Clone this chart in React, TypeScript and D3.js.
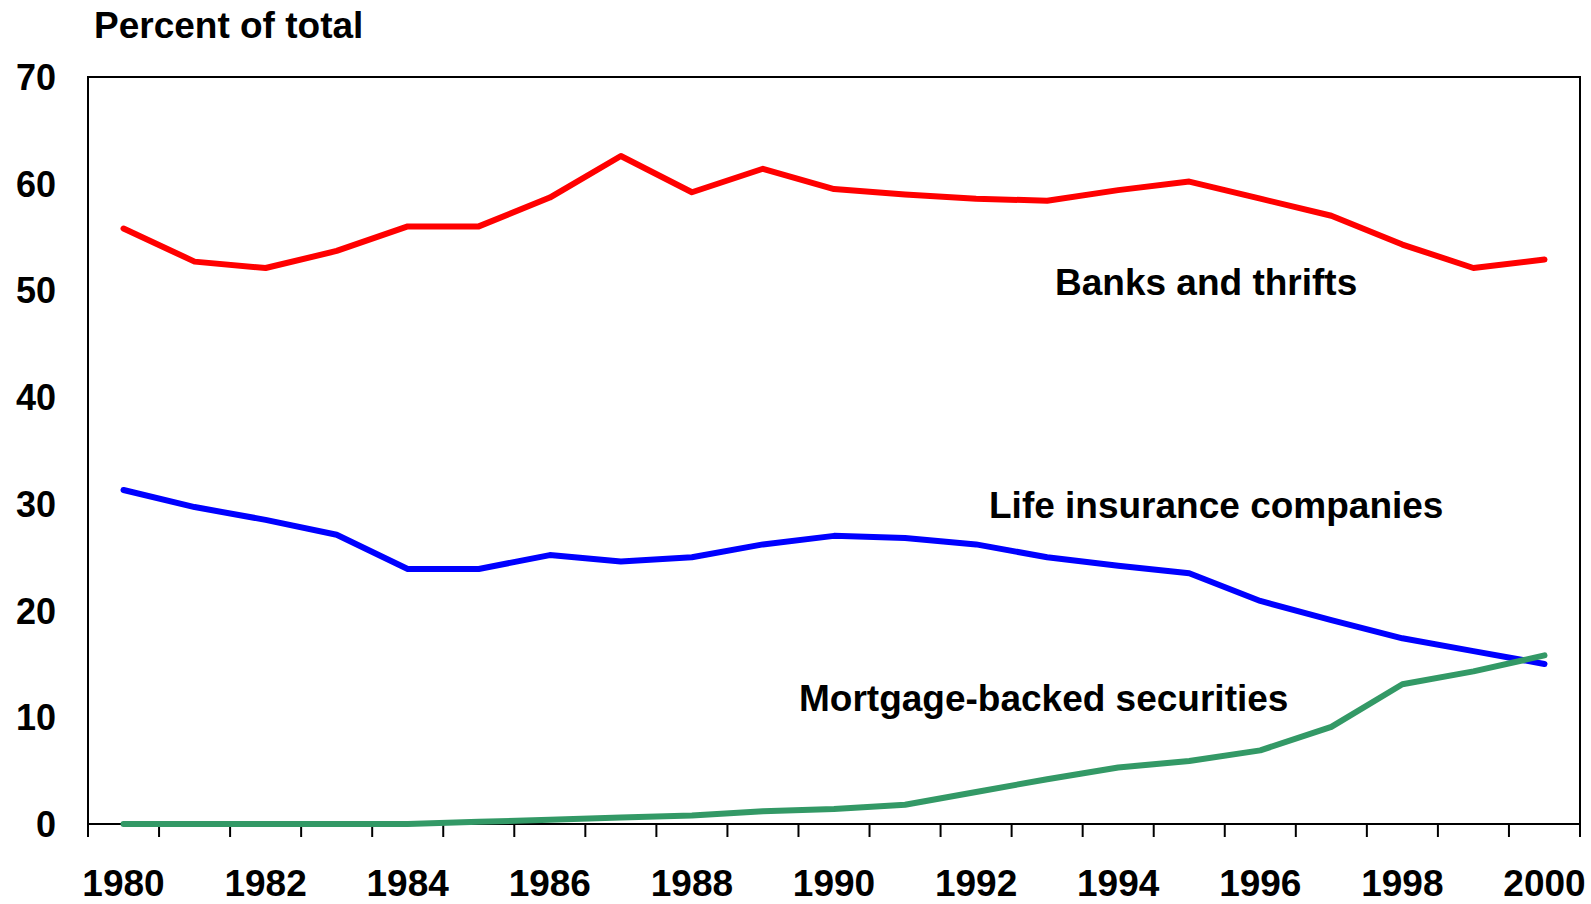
import React from 'react';
import * as d3 from 'd3';

// years on the category axis
const years = [
  '1980', '1981', '1982', '1983', '1984', '1985', '1986', '1987', '1988', '1989', '1990',
  '1991', '1992', '1993', '1994', '1995', '1996', '1997', '1998', '1999', '2000',
];

// percent of total
const banksAndThrifts = [
  55.8, 52.7, 52.1, 53.7, 56.0, 56.0, 58.7, 62.6, 59.2, 61.4, 59.5,
  59.0, 58.6, 58.4, 59.4, 60.2, 58.6, 57.0, 54.3, 52.1, 52.9,
];
const lifeInsurance = [
  31.3, 29.7, 28.5, 27.1, 23.9, 23.9, 25.2, 24.6, 25.0, 26.2, 27.0,
  26.8, 26.2, 25.0, 24.2, 23.5, 20.9, 19.1, 17.4, 16.2, 15.0,
];
const mortgageBacked = [
  0, 0, 0, 0, 0, 0.2, 0.4, 0.6, 0.8, 1.2, 1.4,
  1.8, 3.0, 4.2, 5.3, 5.9, 6.9, 9.1, 13.1, 14.3, 15.8,
];

const yTicks = [0, 10, 20, 30, 40, 50, 60, 70];
const yearLabels = ['1980', '1982', '1984', '1986', '1988', '1990', '1992', '1994', '1996', '1998', '2000'];

const W = 1591;
const H = 904;
const left = 88;
const right = 1580;
const top = 77;
const bottom = 824;
const font = 'Arial, "Liberation Sans", sans-serif';

export default function App() {
  const x = d3.scaleBand().domain(years).range([left, right]);
  const y = d3.scaleLinear().domain([0, 70]).range([bottom, top]);

  const line = d3
    .line<number>()
    .x((_, i) => (x(years[i]) as number) + x.bandwidth() / 2)
    .y((d) => y(d));

  const series = [
    { name: 'Banks and thrifts', values: banksAndThrifts, color: '#FF0000', width: 6, lx: 1055, ly: 295 },
    { name: 'Life insurance companies', values: lifeInsurance, color: '#0000FF', width: 6, lx: 989, ly: 518 },
    { name: 'Mortgage-backed securities', values: mortgageBacked, color: '#339966', width: 6, lx: 799, ly: 711 },
  ];

  // tick marks sit on the category boundaries
  const tickXs = years.map((yr) => x(yr) as number).concat([right]);

  return (
    <div style={{ position: 'absolute', left: 0, top: 0 }}>
      <svg width={W} height={H} style={{ display: 'block', background: '#fff' }} fontFamily={font}>
        <text x={94} y={38} fontSize={37} fontWeight="bold" fill="#000">
          Percent of total
        </text>

        {/* plot frame */}
        <rect x={left} y={top} width={right - left} height={bottom - top} fill="none" stroke="#000" strokeWidth={2} />

        {yTicks.map((t) => (
          <text key={t} x={56} y={y(t)} dy="0.36em" textAnchor="end" fontSize={36} fontWeight="bold" fill="#000">
            {t}
          </text>
        ))}

        {tickXs.map((tx, i) => (
          <line key={i} x1={tx} x2={tx} y1={bottom} y2={bottom + 13} stroke="#000" strokeWidth={2} />
        ))}

        {yearLabels.map((yr) => (
          <text
            key={yr}
            x={(x(yr) as number) + x.bandwidth() / 2}
            y={896}
            textAnchor="middle"
            fontSize={37}
            fontWeight="bold"
            fill="#000"
          >
            {yr}
          </text>
        ))}

        {series.map((s) => (
          <path
            key={s.name}
            d={line(s.values) || ''}
            fill="none"
            stroke={s.color}
            strokeWidth={s.width}
            strokeLinejoin="round"
            strokeLinecap="round"
          />
        ))}

        {series.map((s) => (
          <text key={s.name + '-label'} x={s.lx} y={s.ly} fontSize={37} fontWeight="bold" fill="#000">
            {s.name}
          </text>
        ))}
      </svg>
    </div>
  );
}
